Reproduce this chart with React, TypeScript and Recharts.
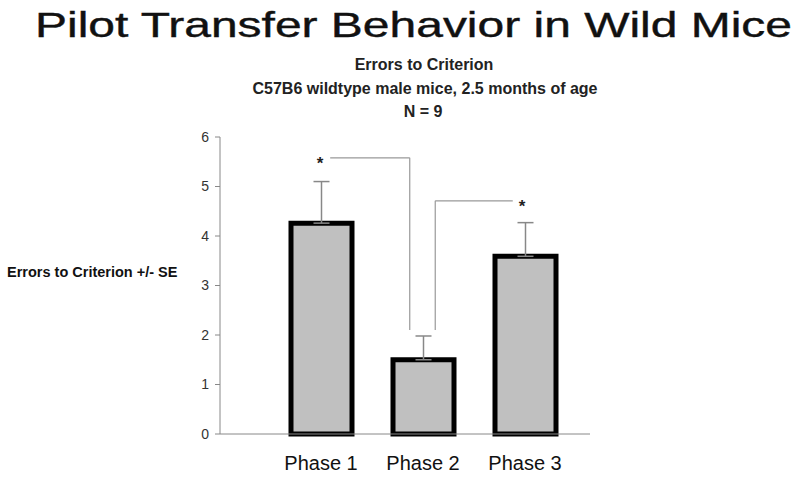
import React from 'react';
import {
  ComposedChart,
  Bar,
  ErrorBar,
  XAxis,
  YAxis,
  ReferenceLine,
  ReferenceDot,
} from 'recharts';

const phases = ['Phase 1', 'Phase 2', 'Phase 3'];
const phasePos = [1, 2, 3];
const meanErrors = [4.26, 1.5, 3.59];
const seErrors = [0.84, 0.48, 0.68];
const yTicks = [0, 1, 2, 3, 4, 5, 6];

// significance brackets, x in phase units (1 = Phase 1 centre), y in errors
const bracketOneTwo = [
  { x: 1.09, y: 5.58 },
  { x: 1.87, y: 5.58 },
  { x: 1.87, y: 2.1 },
];
const bracketTwoThree = [
  { x: 2.12, y: 2.1 },
  { x: 2.12, y: 4.71 },
  { x: 2.88, y: 4.71 },
];
const stars = [
  { x: 0.99, y: 5.58 },
  { x: 2.97, y: 4.71 },
];

const data = phases.map((phase, i) => ({
  phase,
  pos: phasePos[i],
  mean: meanErrors[i],
  se: [0, seErrors[i]],
}));

const font = "Arial, 'Liberation Sans', Helvetica, sans-serif";

const segments = (pts: { x: number; y: number }[]) =>
  pts.slice(1).map((p, i) => [pts[i], p]);

const Star = (props: any) => (
  <text
    x={props.cx}
    y={props.cy}
    dy={11}
    textAnchor="middle"
    fontSize={17}
    fontWeight="bold"
    fontFamily={font}
    fill="#222"
  >
    *
  </text>
);

export default function App() {
  return (
    <div style={{ position: 'absolute', left: 0, top: 0, width: 800, height: 481, background: '#fff' }}>
      <ComposedChart
        width={800}
        height={481}
        data={data}
        margin={{ top: 137, right: 210, bottom: 0, left: 0 }}
      >
        <XAxis
          dataKey="pos"
          type="number"
          domain={[0.5, 3.5]}
          allowDataOverflow
          ticks={phasePos}
          tickFormatter={(v: number) => phases[v - 1]}
          padding={{ left: 50, right: 14 }}
          height={47}
          axisLine={{ stroke: '#888' }}
          tickLine={false}
          tickMargin={16}
          tick={{ fontSize: 20, fill: '#111', fontFamily: font }}
        />
        <YAxis
          domain={[0, 6]}
          ticks={yTicks}
          width={220}
          axisLine={{ stroke: '#888' }}
          tickLine={{ stroke: '#888' }}
          tickSize={5}
          tickMargin={6}
          tick={{ fontSize: 14, fill: '#333', fontFamily: font }}
        />
        <Bar
          dataKey="mean"
          barSize={61}
          fill="#c0c0c0"
          stroke="#000"
          strokeWidth={5}
          isAnimationActive={false}
        >
          <ErrorBar dataKey="se" width={8} stroke="#888" strokeWidth={1.5} direction="y" />
        </Bar>
        {[...segments(bracketOneTwo), ...segments(bracketTwoThree)].map((seg, i) => (
          <ReferenceLine key={i} segment={seg} stroke="#999" strokeWidth={1.2} />
        ))}
        {stars.map((s, i) => (
          <ReferenceDot key={i} x={s.x} y={s.y} r={0} shape={Star} />
        ))}
      </ComposedChart>
      <svg
        width={800}
        height={481}
        style={{ position: 'absolute', left: 0, top: 0, pointerEvents: 'none' }}
      >
        <text x={35} y={37} fontSize={35} fontFamily={font} fill="#111" stroke="#111" strokeWidth={0.4} textLength={757} lengthAdjust="spacingAndGlyphs">
          Pilot Transfer Behavior in Wild Mice
        </text>
        <text x={424} y={70} textAnchor="middle" fontSize={16} fontWeight="bold" fontFamily={font} fill="#222">
          Errors to Criterion
        </text>
        <text x={425} y={94} textAnchor="middle" fontSize={16} fontWeight="bold" fontFamily={font} fill="#222">
          C57B6 wildtype male mice, 2.5 months of age
        </text>
        <text x={423} y={117} textAnchor="middle" fontSize={16} fontWeight="bold" fontFamily={font} fill="#222">
          N = 9
        </text>
        <text x={7} y={277} fontSize={14.5} fontWeight="bold" fontFamily={font} fill="#111">
          Errors to Criterion +/- SE
        </text>
      </svg>
    </div>
  );
}
